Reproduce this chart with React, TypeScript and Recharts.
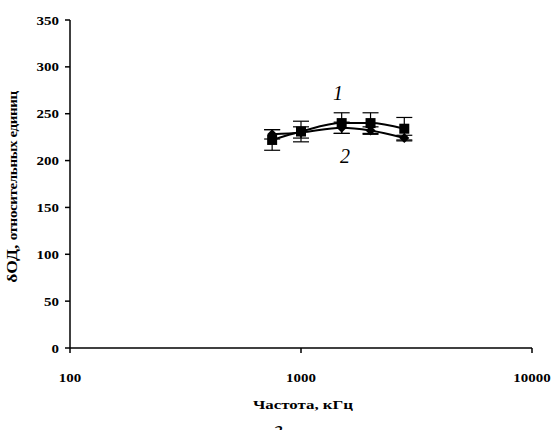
import React from 'react';
import {
    LineChart,
    Line,
    XAxis,
    YAxis,
    ErrorBar,
} from 'recharts';

const frequencies = [750, 1000, 1500, 2000, 2800];
const series1 = [222, 231, 240, 240, 234];
const series1Err = [11, 11, 11, 11, 12];
const series2 = [228, 230, 235, 232, 224];
const series2Err = [5, 6, 6, 4, 3];
const xTicks = [100, 1000, 10000];
const yTicks = [0, 50, 100, 150, 200, 250, 300, 350];

const data = frequencies.map((f, i) => ({
    freq: f,
    s1: series1[i],
    e1: series1Err[i],
    s2: series2[i],
    e2: series2Err[i],
}));

const font = '"Liberation Serif", "Times New Roman", serif';

const SquareDot = (props: any) => {
    const { cx, cy, index } = props;
    if (cx == null || cy == null) return null;
    return <rect key={`sq-${index}`} x={cx - 5} y={cy - 5} width={10} height={10} fill="#000" />;
};

const DiamondDot = (props: any) => {
    const { cx, cy, index } = props;
    if (cx == null || cy == null) return null;
    return (
        <polygon
            key={`dm-${index}`}
            points={`${cx},${cy - 5} ${cx + 5},${cy} ${cx},${cy + 5} ${cx - 5},${cy}`}
            fill="#000"
        />
    );
};

// the reference text is a bit stretched horizontally
const XTick = (props: any) => {
    const { x, y, payload } = props;
    return (
        <text
            transform={`translate(${x}, ${y + 27}) scale(1.15, 1)`}
            textAnchor="middle"
            fontFamily={font}
            fontWeight="bold"
            fontSize={13}
            fill="#000"
        >
            {payload.value}
        </text>
    );
};

const YTick = (props: any) => {
    const { x, y, payload } = props;
    return (
        <text
            transform={`translate(${x - 4}, ${y + 4.5}) scale(1.15, 1)`}
            textAnchor="end"
            fontFamily={font}
            fontWeight="bold"
            fontSize={13}
            fill="#000"
        >
            {payload.value}
        </text>
    );
};

export default function App() {
    return (
        <div style={{ position: 'absolute', left: 0, top: 0, width: 555, height: 430, background: '#fff', overflow: 'hidden' }}>
            <LineChart
                width={555}
                height={430}
                data={data}
                margin={{ top: 20, right: 23, bottom: 52, left: 0 }}
            >
                <XAxis
                    dataKey="freq"
                    type="number"
                    scale="log"
                    domain={[100, 10000]}
                    ticks={xTicks}
                    allowDataOverflow
                    stroke="#000"
                    strokeWidth={1.5}
                    tickSize={5}
                    tick={<XTick />}
                />
                <YAxis
                    type="number"
                    domain={[0, 350]}
                    ticks={yTicks}
                    width={70}
                    stroke="#000"
                    strokeWidth={1.5}
                    tickSize={5}
                    tick={<YTick />}
                />
                <Line
                    type="monotone"
                    dataKey="s1"
                    stroke="#000"
                    strokeWidth={2}
                    dot={<SquareDot />}
                    activeDot={false}
                    isAnimationActive={false}
                >
                    <ErrorBar dataKey="e1" direction="y" width={8} stroke="#000" strokeWidth={1.2} />
                </Line>
                <Line
                    type="monotone"
                    dataKey="s2"
                    stroke="#000"
                    strokeWidth={2}
                    dot={<DiamondDot />}
                    activeDot={false}
                    isAnimationActive={false}
                >
                    <ErrorBar dataKey="e2" direction="y" width={8} stroke="#000" strokeWidth={1.2} />
                </Line>
                <text x={338} y={100} fontFamily={font} fontStyle="italic" fontSize={20} textAnchor="middle" fill="#000">1</text>
                <text x={345} y={163} fontFamily={font} fontStyle="italic" fontSize={20} textAnchor="middle" fill="#000">2</text>
                <text
                    transform="translate(303, 409) scale(1.35, 1)"
                    fontFamily={font}
                    fontWeight="bold"
                    fontSize={12.5}
                    textAnchor="middle"
                    fill="#000"
                >
                    Частота, кГц
                </text>
                <text x={278} y={437} fontFamily={font} fontStyle="italic" fontSize={24} textAnchor="middle" fill="#000">г</text>
                <text
                    transform="translate(17, 187) rotate(-90) scale(1.25, 1)"
                    fontFamily={font}
                    textAnchor="middle"
                    fill="#000"
                >
                    <tspan fontWeight="bold" fontSize={14}>δОД, </tspan>
                    <tspan fontSize={12} fontWeight="bold" letterSpacing={-0.3}>относительных единиц</tspan>
                </text>
            </LineChart>
        </div>
    );
}
